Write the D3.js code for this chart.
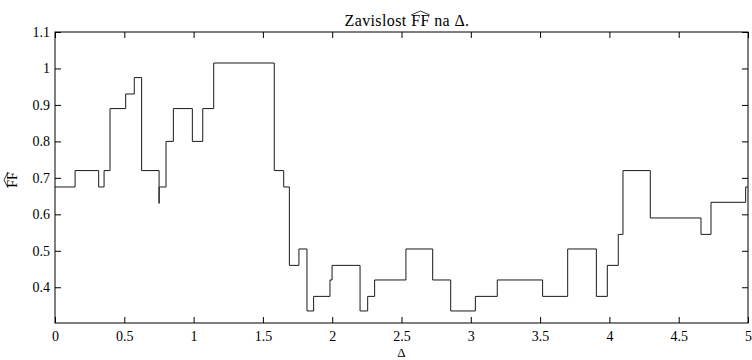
<!DOCTYPE html>
<meta charset="utf-8">
<style>
  body { margin: 0; background: #fff; }
  .frame { fill: none; stroke: #000; stroke-width: 1; }
  .curve { fill: none; stroke: #1a1a1a; stroke-width: 1; }
</style>
<body>
<script src="https://cdn.jsdelivr.net/npm/d3@7"></script>
<script>
// step edges (left end of each step) and level of each step
var stepX = [0, 0.145, 0.315, 0.354, 0.397, 0.51, 0.572, 0.625, 0.751, 0.751,
  0.801, 0.854, 0.991, 1.066, 1.145, 1.582, 1.65, 1.691, 1.76, 1.818,
  1.866, 1.984, 1.999, 2.201, 2.256, 2.306, 2.532, 2.725, 2.855, 3.033,
  3.191, 3.518, 3.699, 3.906, 3.985, 4.064, 4.098, 4.295, 4.661, 4.733, 4.983];
var stepY = [0.675, 0.72, 0.675, 0.72, 0.89, 0.93, 0.975, 0.72, 0.63, 0.675,
  0.80, 0.89, 0.80, 0.89, 1.015, 0.72, 0.675, 0.46, 0.505, 0.335,
  0.375, 0.42, 0.46, 0.335, 0.375, 0.42, 0.505, 0.42, 0.335, 0.375,
  0.42, 0.375, 0.505, 0.375, 0.46, 0.545, 0.72, 0.59, 0.545, 0.633, 0.675];
var xTicks = [0, 0.5, 1, 1.5, 2, 2.5, 3, 3.5, 4, 4.5, 5];
var yTicks = [0.4, 0.5, 0.6, 0.7, 0.8, 0.9, 1, 1.1];

var serif = "'Liberation Serif', 'Times New Roman', serif";

var margin = {top: 32, right: 4, bottom: 37, left: 55},
    width = 752 - margin.left - margin.right,
    height = 360 - margin.top - margin.bottom;

var x = d3.scaleLinear().domain([0, 5]).range([0, width]);
var y = d3.scaleLinear().domain([0.302, 1.1]).range([height, 0]);

var svg = d3.select("body").append("svg")
    .attr("width", 752).attr("height", 360);
var g = svg.append("g")
    .attr("transform", "translate(" + margin.left + "," + margin.top + ")");

var pts = stepX.map(function(d, i) { return [d, stepY[i]]; });
pts.push([5, stepY[stepY.length - 1]]);

var line = d3.line()
    .x(function(d) { return x(d[0]); })
    .y(function(d) { return y(d[1]); })
    .curve(d3.curveStepAfter);

g.append("path").datum(pts).attr("class", "curve").attr("d", line);

// axes with inward ticks on all four sides
function clean(sel) {
  sel.select(".domain").remove();
  sel.selectAll("line").attr("stroke", "#000");
  sel.selectAll("text").style("font-size", "14px").style("font-family", serif).attr("fill", "#000");
}
var fmt = function(d) { return d3.format("")(d); };

g.append("g").attr("transform", "translate(0," + height + ")")
  .call(d3.axisBottom(x).tickValues(xTicks).tickFormat(fmt).tickSizeInner(-6).tickPadding(8))
  .call(clean);
g.append("g")
  .call(d3.axisTop(x).tickValues(xTicks).tickFormat("").tickSizeInner(-6))
  .call(clean);
g.append("g")
  .call(d3.axisLeft(y).tickValues(yTicks).tickFormat(fmt).tickSizeInner(-6).tickPadding(5))
  .call(clean);
g.append("g").attr("transform", "translate(" + width + ",0)")
  .call(d3.axisRight(y).tickValues(yTicks).tickFormat("").tickSizeInner(-6))
  .call(clean);

g.append("rect").attr("class", "frame")
  .attr("x", 0).attr("y", 0).attr("width", width).attr("height", height);

// hat drawn over a text span
function hat(parent, x0, x1, yb) {
  parent.append("path")
    .attr("d", "M" + x0 + "," + yb + " L" + ((x0 + x1) / 2) + "," + (yb - 4) + " L" + x1 + "," + yb)
    .attr("fill", "none").attr("stroke", "#000").attr("stroke-width", 0.8);
}

// title
var title = svg.append("text")
    .attr("x", 407).attr("y", 26)
    .attr("text-anchor", "middle")
    .style("font-family", serif).style("font-size", "16px").style("letter-spacing", "0.4px");
title.append("tspan").text("Zavislost ");
var ff = title.append("tspan").text("FF");
title.append("tspan").text(" na Δ.");
var bb = ff.node().getBBox();
hat(svg, bb.x, bb.x + bb.width, bb.y + 3);

// x label
svg.append("text")
    .attr("x", margin.left + width / 2).attr("y", 357)
    .attr("text-anchor", "middle")
    .style("font-family", serif).style("font-size", "13px").text("Δ");

// y label
var yl = svg.append("g").attr("transform", "translate(17,180) rotate(-90)");
var yt = yl.append("text").attr("x", 0).attr("y", 0)
    .attr("text-anchor", "middle")
    .style("font-family", serif).style("font-size", "14px").text("FF");
var yb = yt.node().getBBox();
hat(yl, yb.x, yb.x + yb.width, yb.y + 3);
</script>
</body>
